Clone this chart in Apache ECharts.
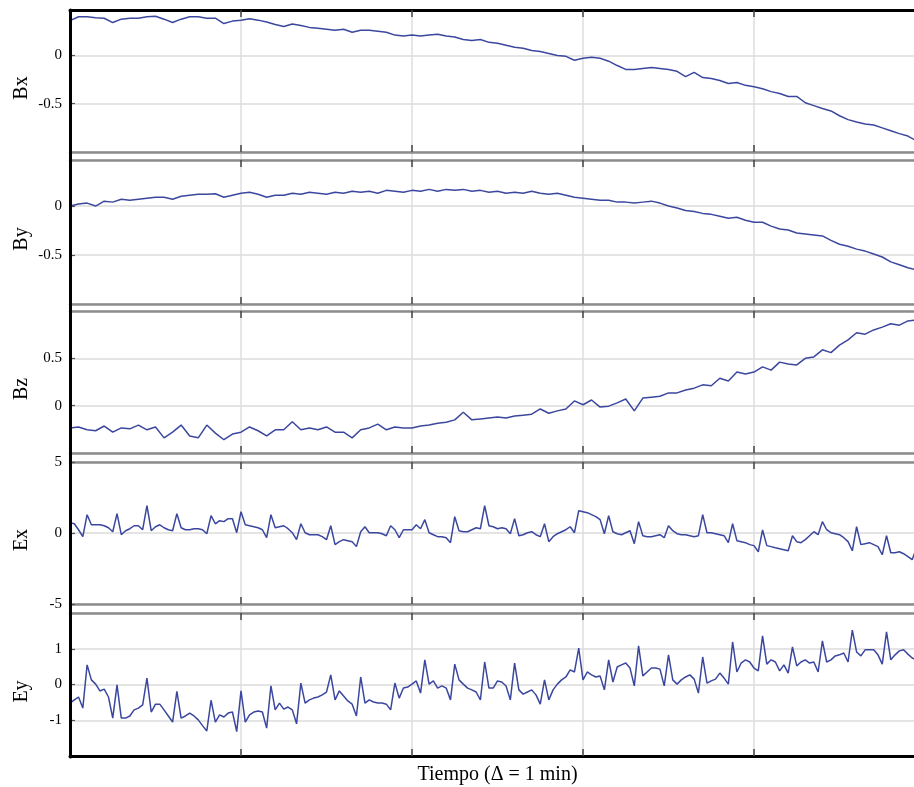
<!DOCTYPE html>
<html>
<head>
<meta charset="utf-8">
<script src="https://cdn.jsdelivr.net/npm/echarts@6/dist/echarts.min.js"></script>
<style>
  html, body { margin: 0; padding: 0; background: #fff; }
  #main { width: 914px; height: 787px; }
</style>
</head>
<body>
<div id="main"></div>
<script>
// time axis (samples), no labels in the original; the right end runs past the picture
const tMax = 200;
const tStep = 40;
const bEvery = 2; // B series sampled every 2 steps

const panelNames = ['Bx', 'By', 'Bz', 'Ex', 'Ey'];

const bx = [0.36, 0.40, 0.40, 0.39, 0.385, 0.34, 0.375, 0.385, 0.385, 0.40,
  0.405, 0.375, 0.34, 0.375, 0.40, 0.40, 0.385, 0.385, 0.33, 0.355,
  0.365, 0.38, 0.365, 0.345, 0.32, 0.30, 0.325, 0.31, 0.29, 0.28,
  0.27, 0.26, 0.27, 0.24, 0.26, 0.26, 0.25, 0.24, 0.21, 0.20,
  0.21, 0.20, 0.21, 0.22, 0.20, 0.19, 0.165, 0.155, 0.165, 0.135,
  0.125, 0.105, 0.085, 0.075, 0.05, 0.04, 0.02, 0.0, -0.01, -0.05,
  -0.03, -0.02, -0.03, -0.06, -0.105, -0.145, -0.145, -0.135, -0.125, -0.135,
  -0.145, -0.165, -0.22, -0.175, -0.23, -0.24, -0.26, -0.29, -0.28, -0.31,
  -0.325, -0.345, -0.375, -0.395, -0.425, -0.425, -0.49, -0.52, -0.55, -0.575,
  -0.625, -0.665, -0.69, -0.71, -0.72, -0.75, -0.78, -0.81, -0.835, -0.885];

const by = [0.0, 0.02, 0.03, 0.0, 0.05, 0.04, 0.07, 0.06, 0.07, 0.08,
  0.09, 0.09, 0.07, 0.10, 0.11, 0.12, 0.12, 0.125, 0.09, 0.11,
  0.13, 0.14, 0.12, 0.09, 0.11, 0.11, 0.13, 0.12, 0.14, 0.13,
  0.12, 0.14, 0.13, 0.15, 0.14, 0.15, 0.13, 0.16, 0.15, 0.14,
  0.16, 0.15, 0.17, 0.15, 0.17, 0.16, 0.17, 0.15, 0.16, 0.14,
  0.15, 0.13, 0.14, 0.13, 0.15, 0.13, 0.12, 0.13, 0.11, 0.09,
  0.08, 0.07, 0.06, 0.06, 0.04, 0.04, 0.03, 0.04, 0.05, 0.03,
  0.0, -0.02, -0.045, -0.055, -0.075, -0.085, -0.105, -0.125, -0.115, -0.145,
  -0.165, -0.165, -0.205, -0.235, -0.245, -0.275, -0.285, -0.295, -0.305, -0.35,
  -0.39, -0.41, -0.44, -0.46, -0.49, -0.52, -0.57, -0.60, -0.63, -0.65];

const bz = [-0.235, -0.225, -0.255, -0.265, -0.215, -0.28, -0.235, -0.245, -0.205, -0.255,
  -0.225, -0.34, -0.28, -0.205, -0.32, -0.34, -0.205, -0.29, -0.36, -0.30,
  -0.28, -0.225, -0.265, -0.32, -0.255, -0.255, -0.17, -0.255, -0.235, -0.255,
  -0.225, -0.28, -0.28, -0.34, -0.255, -0.235, -0.195, -0.255, -0.225, -0.235,
  -0.235, -0.215, -0.205, -0.185, -0.175, -0.15, -0.07, -0.15, -0.14, -0.13,
  -0.12, -0.13, -0.11, -0.10, -0.09, -0.035, -0.08, -0.055, -0.035, 0.05,
  0.01, 0.06, -0.015, -0.005, 0.03, 0.07, -0.055, 0.08, 0.09, 0.10,
  0.135, 0.135, 0.165, 0.185, 0.22, 0.21, 0.29, 0.26, 0.355, 0.335,
  0.355, 0.41, 0.375, 0.46, 0.44, 0.43, 0.50, 0.515, 0.59, 0.56,
  0.64, 0.695, 0.77, 0.755, 0.80, 0.83, 0.865, 0.85, 0.895, 0.905];

const ex = [0.73, 0.65, 0.23, -0.26, 1.29, 0.58, 0.58, 0.58, 0.51, 0.37,
  0.09, 1.36, -0.12, 0.16, 0.30, 0.51, 0.51, 0.23, 1.92, 0.16,
  0.44, 0.58, 0.37, 0.23, 0.16, 1.36, 0.37, 0.23, 0.23, 0.30,
  0.30, 0.23, -0.05, 1.22, 0.65, 0.87, 0.80, 1.01, 1.01, 0.02,
  1.50, 0.58, 0.51, 0.44, 0.37, 0.23, -0.33, 1.29, 0.37, 0.44,
  0.51, 0.30, 0.02, -0.47, 0.65, 0.02, -0.12, -0.12, -0.12, -0.26,
  -0.47, 0.51, -0.82, -0.61, -0.47, -0.54, -0.61, -0.96, 0.09, 0.44,
  0.02, 0.02, 0.02, -0.05, -0.19, 0.51, 0.23, -0.33, 0.23, 0.23,
  0.23, 0.58, 0.30, 0.94, 0.02, -0.12, -0.26, -0.26, -0.33, -0.68,
  1.15, 0.16, 0.09, 0.09, 0.23, 0.37, 0.30, 1.92, 0.51, 0.44,
  0.30, 0.37, 0.30, -0.05, 1.01, -0.19, -0.12, 0.02, 0.09, -0.12,
  -0.26, 0.65, -0.61, -0.26, -0.05, 0.09, 0.23, 0.44, 0.02, 1.57,
  1.50, 1.43, 1.29, 1.15, 0.94, -0.05, 1.22, 0.09, -0.05, -0.12,
  0.02, 0.16, -0.75, 0.80, -0.19, -0.26, -0.26, -0.19, -0.12, -0.33,
  0.51, 0.16, -0.05, -0.12, -0.12, -0.19, -0.26, -0.19, 1.29, 0.02,
  0.02, -0.05, -0.12, -0.19, -0.68, 0.65, -0.54, -0.61, -0.68, -0.82,
  -0.89, -1.32, 0.21, -0.89, -0.96, -1.04, -1.11, -1.18, -1.25, -0.19,
  -0.61, -0.68, -0.47, -0.19, 0.09, -0.12, 0.80, 0.23, 0.02, -0.05,
  -0.12, -0.33, -0.61, -1.25, 0.44, -0.82, -0.75, -0.68, -0.82, -0.96,
  -1.53, -0.19, -1.39, -1.39, -1.32, -1.46, -1.67, -1.88, -1.04];

const ey = [-0.52, -0.43, -0.35, -0.66, 0.55, 0.13, 0.01, -0.18, -0.13, -0.35,
  -0.94, -0.01, -0.94, -0.94, -0.88, -0.71, -0.66, -0.57, 0.18, -0.77,
  -0.55, -0.55, -0.71, -0.88, -1.05, -0.19, -0.94, -0.88, -0.80, -0.88,
  -0.99, -1.15, -1.30, -0.44, -1.05, -0.85, -0.91, -0.80, -0.77, -1.32,
  -0.18, -1.05, -0.85, -0.77, -0.74, -0.77, -1.22, -0.04, -0.71, -0.52,
  -0.69, -0.63, -0.71, -1.10, 0.04, -0.52, -0.43, -0.38, -0.35, -0.29,
  -0.21, 0.27, -0.43, -0.18, -0.32, -0.46, -0.55, -0.88, 0.21, -0.52,
  -0.43, -0.49, -0.52, -0.52, -0.55, -0.71, 0.04, -0.38, -0.10, -0.07,
  0.01, 0.10, -0.24, 0.69, 0.01, 0.10, -0.10, -0.04, -0.10, -0.43,
  0.57, 0.13, 0.01, -0.10, -0.15, -0.21, -0.43, 0.63, -0.10, -0.10,
  0.10, 0.07, -0.04, -0.43, 0.60, -0.15, -0.27, -0.21, -0.15, -0.29,
  -0.55, 0.13, -0.43, -0.15, 0.01, 0.13, 0.21, 0.41, 0.35, 1.02,
  0.13, 0.35, 0.27, 0.21, 0.24, -0.15, 0.69, 0.07, 0.49, 0.55,
  0.60, 0.46, -0.04, 1.08, 0.24, 0.35, 0.46, 0.46, 0.43, -0.04,
  0.83, 0.13, 0.01, 0.13, 0.21, 0.27, 0.15, -0.24, 0.77, 0.04,
  0.10, 0.15, 0.32, 0.18, 0.01, 1.19, 0.35, 0.60, 0.69, 0.63,
  0.46, 0.38, 1.36, 0.57, 0.69, 0.63, 0.38, 0.55, 0.32, 1.05,
  0.52, 0.63, 0.69, 0.60, 0.63, 0.35, 1.22, 0.63, 0.69, 0.80,
  0.83, 0.88, 0.63, 1.52, 0.91, 0.80, 0.97, 0.97, 0.97, 0.83,
  0.57, 1.47, 0.69, 0.83, 0.94, 0.97, 0.85, 0.74, 0.69];

// y ranges per panel
const yMin = [-1, -1, -0.5, -5, -2];
const yMax = [0.47, 0.47, 1, 5, 2];
const yStep = [0.5, 0.5, 0.5, 5, 1];
const showEdgeLabels = [false, false, false, true, false];

const panelData = [
  bx.map((v, k) => [k * bEvery, v]),
  by.map((v, k) => [k * bEvery, v]),
  bz.map((v, k) => [k * bEvery, v]),
  ex.map((v, k) => [k, v]),
  ey.map((v, k) => [k, v])
];

const gridTops = [10, 160, 311, 462, 613];
const gridHeights = [142, 144, 142, 142, 143];
const plotLeft = 70;
const plotWidth = 855;
const serif = '"Liberation Serif", "DejaVu Serif", serif';
const lineColor = '#3b479e';
const sepColor = '#8c8c8c';

const grids = gridTops.map((t, k) => ({
  left: plotLeft, top: t, width: plotWidth, height: gridHeights[k],
  containLabel: false, outerBoundsMode: 'none'
}));
// frame grid spanning all panels: vertical grid lines, left border, x title
grids.push({ left: plotLeft, top: 10, width: plotWidth, height: 747, containLabel: false, outerBoundsMode: 'none' });

const xAxes = [];
const yAxes = [];
panelNames.forEach((name, k) => {
  ['bottom', 'top'].forEach(pos => {
    const edge = (k === 0 && pos === 'top') || (k === 4 && pos === 'bottom');
    xAxes.push({
      type: 'value', gridIndex: k, position: pos, min: 0, max: tMax, interval: tStep,
      axisLine: { show: true, onZero: false, lineStyle: { color: edge ? '#000' : sepColor, width: edge ? 3 : 2.5 } },
      axisTick: { show: true, inside: true, length: 7, lineStyle: { color: '#444', width: 1.5 } },
      axisLabel: { show: false },
      splitLine: { show: false }
    });
  });
  yAxes.push({
    type: 'value', gridIndex: k, min: yMin[k], max: yMax[k], interval: yStep[k],
    name: name, nameLocation: 'middle', nameRotate: 90, nameGap: 38, nameMoveOverlap: false,
    nameTextStyle: { fontFamily: serif, fontSize: 20, color: '#000', padding: [0, 14, 0, 0] },
    axisLine: { show: false },
    axisTick: { show: true, inside: true, length: 5, lineStyle: { color: '#555', width: 1.2 } },
    axisLabel: {
      fontFamily: serif, fontSize: 15, color: '#000', margin: 8,
      showMinLabel: showEdgeLabels[k], showMaxLabel: showEdgeLabels[k]
    },
    splitLine: { show: true, lineStyle: { color: '#e4e4e4', width: 1.8 } }
  });
});

// frame axes (x: 10 top, 11 bottom; y: 5)
xAxes.push({
  type: 'value', gridIndex: 5, position: 'top', min: 0, max: tMax, interval: tStep,
  axisLine: { show: false }, axisTick: { show: false }, axisLabel: { show: false },
  splitLine: { show: true, lineStyle: { color: '#dedede', width: 1.5 } }
});
xAxes.push({
  type: 'value', gridIndex: 5, position: 'bottom', min: 0, max: tMax, interval: tStep,
  name: 'Tiempo (\u0394 = 1 min)', nameLocation: 'middle', nameGap: 8,
  nameTextStyle: { fontFamily: serif, fontSize: 20, color: '#000' },
  axisLine: { show: false }, axisTick: { show: false }, axisLabel: { show: false },
  splitLine: { show: false }
});
yAxes.push({
  type: 'value', gridIndex: 5, min: 0, max: 1,
  axisLine: { show: true, lineStyle: { color: '#000', width: 3 } },
  axisTick: { show: false }, axisLabel: { show: false }, splitLine: { show: false },
  z: 10
});

const series = panelData.map((d, k) => ({
  type: 'line',
  xAxisIndex: 2 * k,
  yAxisIndex: k,
  data: d,
  showSymbol: false,
  lineStyle: { color: lineColor, width: 1.5 },
  z: 5
}));

const chart = echarts.init(document.getElementById('main'), null, { renderer: 'canvas' });
chart.setOption({
  animation: false,
  backgroundColor: '#fff',
  grid: grids,
  xAxis: xAxes,
  yAxis: yAxes,
  series: series
});
</script>
</body>
</html>
